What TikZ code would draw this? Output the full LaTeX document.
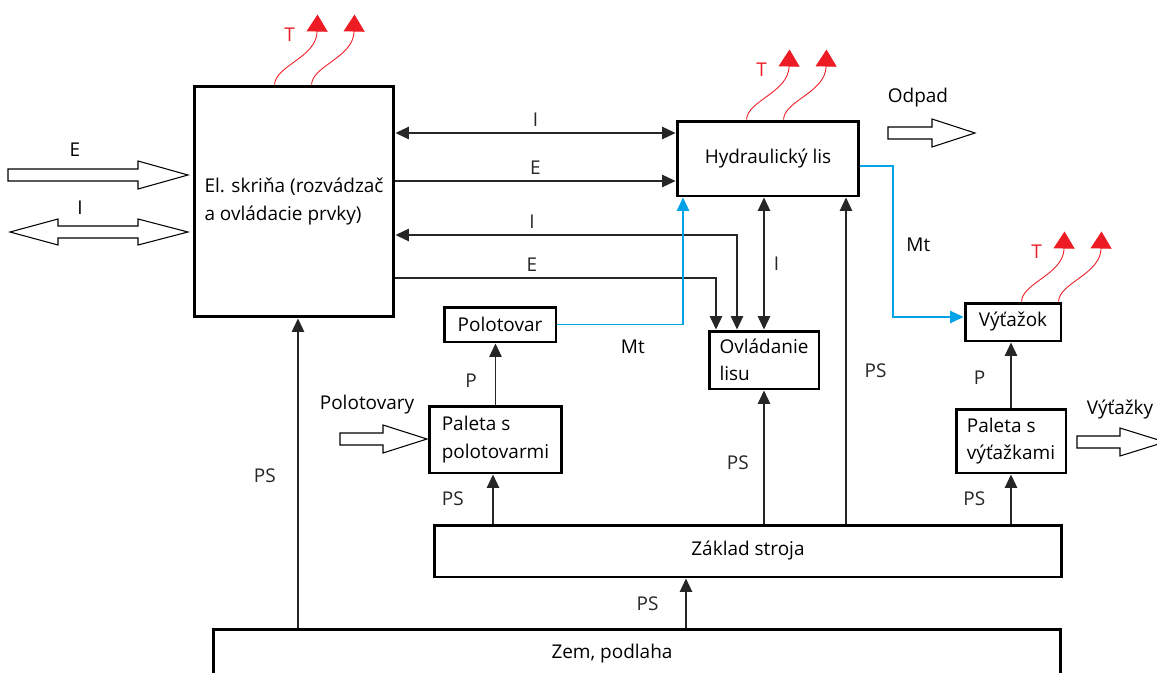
\documentclass[tikz,border=0pt]{standalone}
\usepackage{fontspec}
\setmainfont{Open Sans}
\usepackage{tikz}
\usetikzlibrary{arrows.meta, positioning, calc}
\definecolor{cRed}{RGB}{237,28,36}
\definecolor{cBlue}{RGB}{0,162,232}
\tikzset{
	blok/.style  ={rectangle, draw=black, line width=1.7pt, align=left, inner sep=2pt},
	tok/.style   ={-{Triangle[length=2.7mm, width=2.5mm]}, line width=0.6pt, color=black!85},
	tok2/.style  ={{Triangle[length=2.7mm, width=2.5mm]}-{Triangle[length=2.7mm, width=2.5mm]}, line width=0.6pt, color=black!85},
	mtok/.style  ={tok, color=cBlue},
	teplo/.style ={-{Triangle[length=3.4mm, width=4.2mm]}, color=cRed, line width=0.5pt},
	duta/.style  ={draw=black, line width=0.6pt},
}
% hollow arrow: start x, head x, tip x, y
\newcommand{\dutasipka}[4]{%
	\draw[duta] (#1,#4-6) -- (#2,#4-6) -- (#2,#4-14) -- (#3,#4) -- (#2,#4+14) -- (#2,#4+6) -- (#1,#4+6) -- cycle;}

\begin{document}
\begin{tikzpicture}[x=0.02cm, y=-0.02cm, font=\fontsize{10.8}{15.5}\selectfont]
	\clip (0,0) rectangle (1157,673);
	% bloky
	\node[blok, minimum width=4cm, minimum height=4.62cm] (skrina) at (294,201.5) {El. skriňa (rozvádzač\\a ovládacie prvky)};
	\node[blok, minimum width=3.64cm, minimum height=1.5cm] (hydr) at (768,158.5) {Hydraulický lis};
	\node[blok, minimum width=2.24cm, minimum height=0.7cm] (polot) at (500,324.5) {Polotovar};
	\node[blok, minimum width=2.2cm, minimum height=1.16cm] (ovl) at (764,360) {Ovládanie\\lisu};
	\node[blok, minimum width=1.92cm, minimum height=0.76cm] (vyt) at (1013,322) {Výťažok};
	\node[blok, minimum width=2.66cm, minimum height=1.34cm] (palpol) at (495.5,439.5) {Paleta s\\polotovarmi};
	\node[blok, minimum width=2.2cm, minimum height=1.28cm] (palvyt) at (1011,441) {Paleta s\\výťažkami};
	\node[blok, minimum width=12.56cm, minimum height=1.04cm] (zaklad) at (748,551) {Základ stroja};
	\node[blok, minimum width=16.96cm, minimum height=1.04cm] (zem) at (637,655) {};
	\node (zemtxt) at (612,654) {Zem, podlaha};

	% vazby el. skrine
	\draw[tok2] (skrina.east |- 0,133) -- (hydr.west |- 0,133) node[midway, above] (lI1) {I};
	\draw[tok] (skrina.east |- 0,181) -- (hydr.west |- 0,181) node[midway, above] (lE1) {E};
	\draw[tok2] (skrina.east |- 0,235) -| (737,0 |- ovl.north) node[pos=0.2, above] (lI2) {I};
	\draw[tok] (skrina.east |- 0,278) -| (716,0 |- ovl.north) node[pos=0.213, above] (lE2) {E};
	\draw[tok2] (ovl.north |- hydr.south) -- (ovl.north) node[midway, right=2pt] (lI3) {I};

	% material
	\draw[mtok] (polot.east) -| (683,0 |- hydr.south) node[pos=0.3, below=5pt, text=black] (lMt1) {Mt};
	\draw[mtok] (hydr.east |- 0,166) -| (893,317) node[pos=0.76, right=4pt, text=black] (lMt2) {Mt} -- (vyt.west |- 0,317);
	\draw[tok] (palpol.north) -- (palpol.north |- polot.south) node[pos=0.39, left=7pt] (lP1) {P};
	\draw[tok] (palvyt.north) -- (palvyt.north |- vyt.south) node[pos=0.46, left=11pt] (lP2) {P};

	% podpery
	\draw[tok] (846,0 |- zaklad.north) -- (846,0 |- hydr.south) node[pos=0.47, right=7pt] (lPS1) {PS};
	\draw[tok] (ovl.south |- zaklad.north) -- (ovl.south) node[pos=0.46, left=5pt] (lPS2) {PS};
	\draw[tok] (493,0 |- zaklad.north) -- (493,0 |- palpol.south) node[midway, left=13pt] (lPS3) {PS};
	\draw[tok] (palvyt.south |- zaklad.north) -- (palvyt.south) node[midway, left=11pt] (lPS4) {PS};
	\draw[tok] (298,0 |- zem.north) -- (298,0 |- skrina.south) node[pos=0.49, left=9pt] (lPS5) {PS};
	\draw[tok] (686,0 |- zem.north) -- (686,0 |- zaklad.south) node[pos=0.48, left=12pt] (lPS6) {PS};

	% vstupy a vystupy
	\dutasipka{8}{138}{188}{175}
	\draw[duta] (10,232) -- (58,219) -- (58,226) -- (138,226) -- (138,219) -- (188,232) -- (138,245) -- (138,238) -- (58,238) -- (58,245) -- cycle;
	\dutasipka{888}{932}{975}{133}
	\dutasipka{340}{383}{427}{439}
	\dutasipka{1077}{1120}{1165}{442}
	\node (lE) at (75,150) {E};
	\node (lI) at (80,208) {I};
	\node (lOdpad) at (918,98) {Odpad};
	\node (lPolotovary) at (367,405) {Polotovary};
	\node (lVytazky) at (1120,410) {Výťažky};

	% teplo
	\foreach \n/\dx in {skrina/82, hydr/71, vyt/58}{
		\foreach \k in {0,37}
			\draw[teplo] ([xshift={(\dx+\k)*0.02cm}]\n.north west) .. controls +(1,-19) and +(-1,43) .. +(43,-70);
		\node[text=cRed] (T-\n) at ([xshift={(\dx+15)*0.02cm}, yshift=1cm]\n.north west) {T};
	}
\end{tikzpicture}
\end{document}
